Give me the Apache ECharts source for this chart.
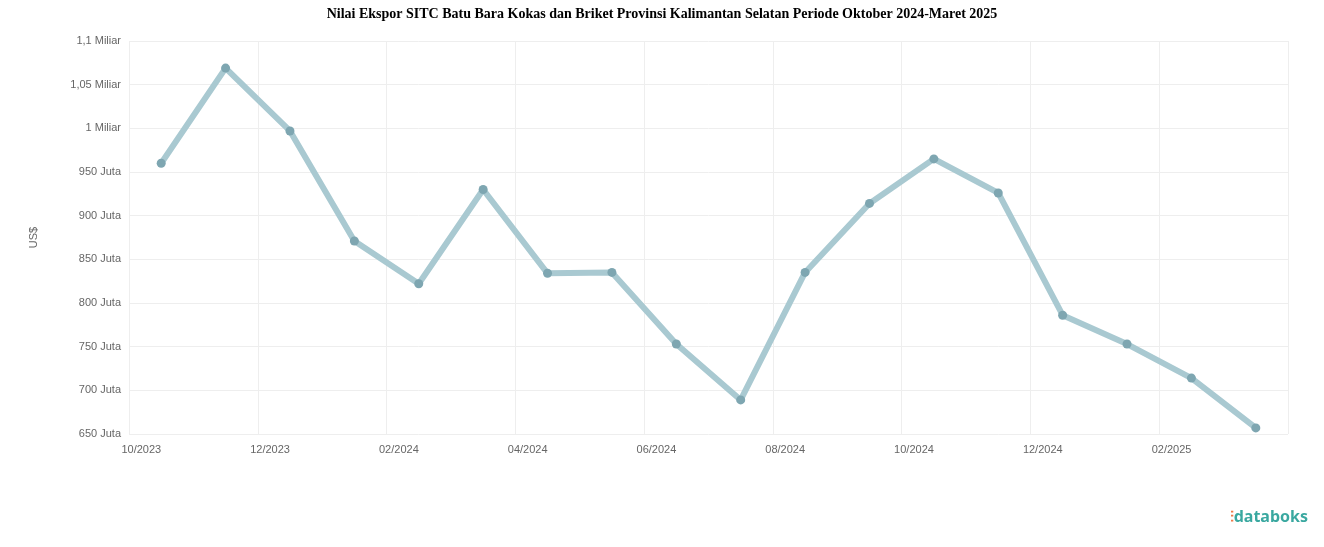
<!DOCTYPE html>
<html>
<head>
<meta charset="utf-8">
<script src="https://cdn.jsdelivr.net/npm/echarts@6/dist/echarts.min.js"></script>
<style>
html,body{margin:0;padding:0;background:#fff;}
#chart{width:1324px;height:547px;}
#logo{position:absolute;right:16px;bottom:20px;font:bold 16px "Noto Sans",sans-serif;color:#3aa8a0;}
#logo span{color:#f07a4a;}
</style>
</head>
<body>
<div id="chart"></div>
<div id="logo"><span>⫶</span>databoks</div>
<script>
var categories = ['10/2023','11/2023','12/2023','01/2024','02/2024','03/2024','04/2024','05/2024','06/2024',
  '07/2024','08/2024','09/2024','10/2024','11/2024','12/2024','01/2025','02/2025','03/2025'];
var values = [960, 1069, 997, 871, 822, 930, 834, 835, 753, 689, 835, 914, 965, 926, 786, 753, 714, 657];

var chart = echarts.init(document.getElementById('chart'));
chart.setOption({
  title: {
    text: 'Nilai Ekspor SITC Batu Bara Kokas dan Briket Provinsi Kalimantan Selatan Periode Oktober 2024-Maret 2025',
    left: 'center', top: 2,
    textStyle: {fontFamily: 'Liberation Serif', fontSize: 14, fontWeight: 'bold', color: '#000'}
  },
  grid: {left: 129, right: 36, top: 41, bottom: 113},
  xAxis: {
    type: 'category',
    data: categories,
    boundaryGap: true,
    axisLine: {show: false},
    axisTick: {show: false},
    axisLabel: {interval: 1, color: '#666', fontSize: 11, margin: 10, align: 'right'},
    splitLine: {show: true, interval: 1, lineStyle: {color: '#eee'}}
  },
  yAxis: {
    type: 'value',
    min: 650, max: 1100, interval: 50,
    name: 'US$', nameLocation: 'middle', nameGap: 90, nameRotate: 90,
    nameTextStyle: {color: '#666', fontSize: 11},
    axisLabel: {color: '#666', fontSize: 11, formatter: function (v) {
      return v >= 1000 ? (v / 1000).toString().replace('.', ',') + ' Miliar' : v + ' Juta';
    }},
    splitLine: {lineStyle: {color: '#eee'}}
  },
  series: [{
    type: 'line',
    data: values,
    symbol: 'circle', symbolSize: 9,
    lineStyle: {color: '#a9c9d1', width: 6},
    itemStyle: {color: '#7ea6b1'}
  }]
});
</script>
</body>
</html>
